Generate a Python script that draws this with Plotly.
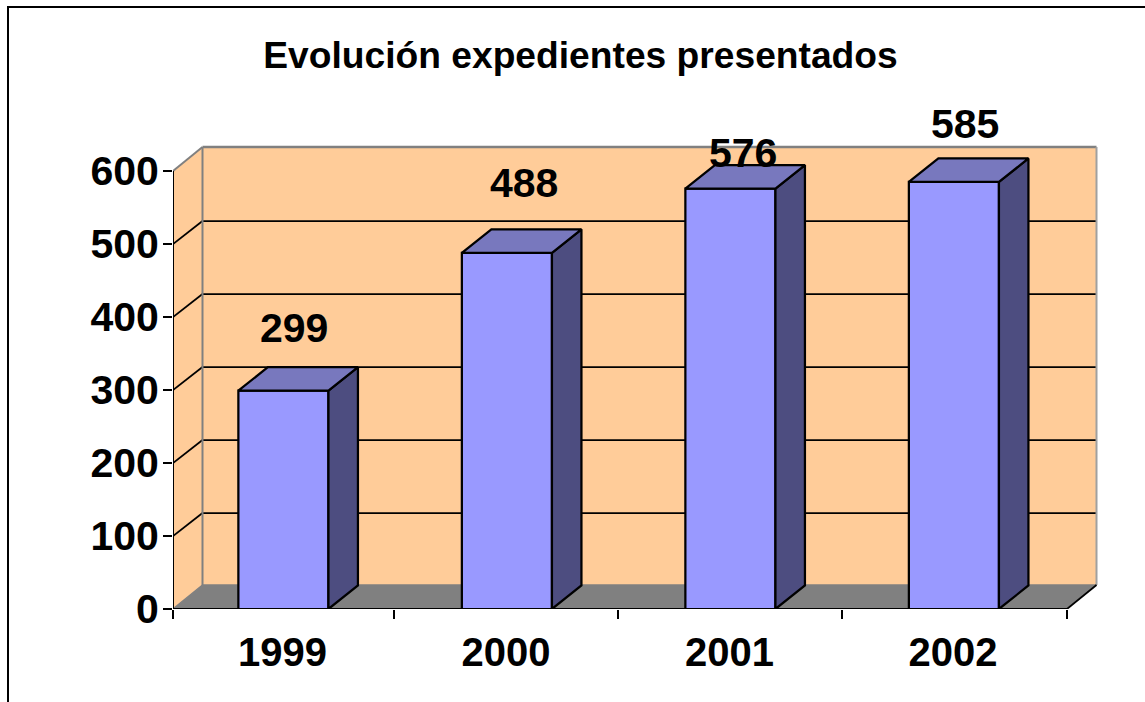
import plotly.graph_objects as go

# ---- data ----
YEARS = ["1999", "2000", "2001", "2002"]
VALUES = [299, 488, 576, 585]
Y_TICKS = [0, 100, 200, 300, 400, 500, 600]
TITLE = "Evolución expedientes presentados"

# ---- pixel geometry of the frame ----
W, H = 1145, 702
ORIGIN_X, ORIGIN_Y = 173, 609
PX_PER_CAT = 223.5
PX_PER_UNIT = 0.73
PAD = 4
WALL_DX_PX, WALL_DY_PX = 29.5, 24
GRID_DY_PX = 23
BAR_DX_PX, BAR_DY_PX = 29.5, 23.5
RIGHT_PX, TOP_PX = 1097 + PAD, 147 - PAD

DX, DY = WALL_DX_PX / PX_PER_CAT, WALL_DY_PX / PX_PER_UNIT
GDY = GRID_DY_PX / PX_PER_UNIT
BDX, BDY = BAR_DX_PX / PX_PER_CAT, BAR_DY_PX / PX_PER_UNIT
N = len(YEARS)
YMAX = Y_TICKS[-1]
CENTER = 0.494
BAR_W = 0.403
LABEL_SHIFTS = [(11, 63), (17, 70), (13, 36), (11, 58)]
X_TICK_POS = [0, 0.99, 1.992, 2.995, 4]

WALL, FLOOR, GREY = "#FFCC99", "#808080", "#808080"
FRONT, TOP, SIDE = "#9999FF", "#7878BE", "#4D4D80"
FONT = "Liberation Sans, Arial, sans-serif"

fig = go.Figure()
shapes = []


def poly(pts, fill, line=None, width=0):
    path = "M " + " L ".join(f"{x},{y}" for x, y in pts) + " Z"
    return dict(type="path", path=path, xref="x", yref="y", layer="below",
                fillcolor=fill, line=dict(color=line or fill, width=width))


def seg(x0, y0, x1, y1, color, width):
    return dict(type="line", x0=x0, y0=y0, x1=x1, y1=y1, xref="x", yref="y",
                layer="below", line=dict(color=color, width=width))


# walls and floor
shapes.append(poly([(0, 0), (DX, DY), (DX, YMAX + DY), (0, YMAX)], WALL))
shapes.append(poly([(DX, DY), (N + DX, DY), (N + DX, YMAX + DY), (DX, YMAX + DY)], WALL))
shapes.append(poly([(0, 0), (N, 0), (N + DX, DY), (DX, DY)], FLOOR))
# gridlines
for t in Y_TICKS[1:-1]:
    shapes.append(seg(0, t, DX, t + GDY, "black", 1.75))
    shapes.append(seg(DX, t + GDY, N + DX, t + GDY, "black", 1.75))
# grey wall edges
shapes.append(seg(0, 0, DX, DY, GREY, 1.5))
shapes.append(seg(0, YMAX, DX, YMAX + DY, GREY, 2))
shapes.append(seg(DX, DY, DX, YMAX + DY, GREY, 2))
shapes.append(seg(DX, YMAX + DY, N + DX, YMAX + DY, GREY, 2.5))
shapes.append(seg(N + DX, DY, N + DX, YMAX + DY, "#A0A0A0", 2))
shapes.append(seg(DX, DY, N + DX, DY, GREY, 1.5))
shapes.append(seg(N, 0, N + DX, DY, "black", 1.75))

# frame around the picture (paper coordinates, pixels converted)
plot_w = RIGHT_PX - ORIGIN_X
plot_h = ORIGIN_Y - TOP_PX


def px(x):
    return (x - ORIGIN_X) / plot_w


def py(y):
    return (ORIGIN_Y - y) / plot_h


shapes.append(dict(type="path", xref="paper", yref="paper",
                   path=f"M {px(8)},{py(H + 5)} L {px(8)},{py(7)} L {px(W + 5)},{py(7)}",
                   line=dict(color="black", width=2)))

# front faces
centers = [i + CENTER for i in range(N)]
fig.add_trace(go.Bar(x=centers, y=VALUES, width=BAR_W, marker=dict(
    color=FRONT, line=dict(color="black", width=2.25)), showlegend=False))

# side and top faces
for c, v in zip(centers, VALUES):
    l, r = c - BAR_W / 2, c + BAR_W / 2
    fig.add_trace(go.Scatter(x=[r, r + BDX, r + BDX, r, r], y=[0, BDY, v + BDY, v, 0],
                             mode="lines", fill="toself", fillcolor=SIDE,
                             line=dict(color="black", width=2.25), showlegend=False,
                             cliponaxis=False))
    fig.add_trace(go.Scatter(x=[l, r, r + BDX, l + BDX, l], y=[v, v, v + BDY, v + BDY, v],
                             mode="lines", fill="toself", fillcolor=TOP,
                             line=dict(color="black", width=2.25), showlegend=False,
                             cliponaxis=False))

# front axis lines
fig.add_trace(go.Scatter(x=[0, 0, None, 0, N], y=[0, YMAX, None, 0, 0], mode="lines",
                         line=dict(color="black", width=2), showlegend=False,
                         cliponaxis=False))

annotations = [dict(x=c, y=v, text=f"<b>{v}</b>", xref="x", yref="y", showarrow=False,
                    xshift=sx, yshift=sy, font=dict(family=FONT, size=41, color="black"))
               for c, v, (sx, sy) in zip(centers, VALUES, LABEL_SHIFTS)]

fig.update_layout(
    width=W, height=H, autosize=False,
    margin=dict(l=ORIGIN_X, r=W - RIGHT_PX, t=TOP_PX, b=H - ORIGIN_Y, pad=0),
    paper_bgcolor="white", plot_bgcolor="rgba(0,0,0,0)",
    showlegend=False, shapes=shapes, annotations=annotations,
    title=dict(text=f"<b>{TITLE}</b>", x=580.5 / W, xanchor="center", xref="container",
               y=1 - 55 / H, yanchor="middle", yref="container",
               font=dict(family=FONT, size=37.2, color="black")),
    xaxis=dict(range=[0, plot_w / PX_PER_CAT], tickmode="array",
               tickvals=[i + 0.49 for i in range(N)], ticktext=[f"<b>{y}</b>" for y in YEARS],
               ticks="", showgrid=False, zeroline=False, showline=False,
               tickfont=dict(family=FONT, size=40, color="black"), ticklabelstandoff=16,
               minor=dict(tickmode="array", tickvals=X_TICK_POS, ticks="outside",
                          ticklen=9, tickwidth=2, tickcolor="black", showgrid=False)),
    yaxis=dict(range=[0, plot_h / PX_PER_UNIT], tickmode="array", tickvals=Y_TICKS,
               ticktext=[f"<b>{t}</b>" for t in Y_TICKS],
               ticks="outside", ticklen=9, tickwidth=2, tickcolor="black",
               showgrid=False, zeroline=False, showline=False,
               tickfont=dict(family=FONT, size=41, color="black"), ticklabelstandoff=-4),
)

fig.write_html("out.html", config={"displayModeBar": False},
               post_script="document.body.style.margin='0';")
